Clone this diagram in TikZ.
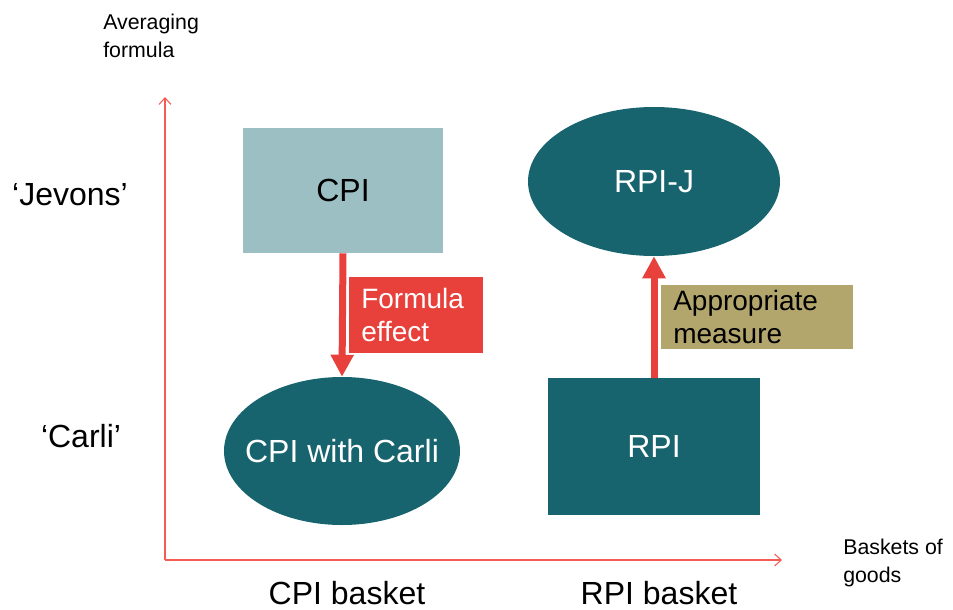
\documentclass[tikz,border=0pt]{standalone}
\usepackage{fontspec}
\setmainfont{Liberation Sans}
\usetikzlibrary{positioning,shapes.geometric,arrows.meta}
\definecolor{darkteal}{HTML}{17646E}
\definecolor{paleteal}{HTML}{9BBFC2}
\definecolor{effectred}{HTML}{E8403A}
\definecolor{measuretan}{HTML}{B3A66D}
\definecolor{axisred}{HTML}{F25C54}
\tikzset{
  index/.style={font=\fontsize{24}{28}\selectfont, inner sep=0pt},
  palebox/.style={index, rectangle, fill=paleteal, text=black},
  tealbox/.style={index, rectangle, fill=darkteal, text=white},
  tealoval/.style={index, ellipse, fill=darkteal,
    label={[index, text=white]center:#1}},
  note/.style={font=\fontsize{21}{25}\selectfont, rectangle, align=left,
    inner xsep=9pt, inner ysep=0pt, anchor=north west},
  axislabel/.style={font=\fontsize{16}{21}\selectfont, align=left,
    inner sep=0pt, anchor=north west},
  rowlabel/.style={font=\fontsize{24}{28}\selectfont, inner sep=0pt, anchor=base},
  axis/.style={draw=axisred, line width=0.8pt, -{Straight Barb[length=5pt,width=9pt]}},
  movearrow/.style={draw=effectred, line width=5.25pt, -{Triangle[width=16.5pt,length=16.5pt]}}
}
\begin{document}
\begin{tikzpicture}[x=0.75pt,y=-0.75pt]
\useasboundingbox (0,0) rectangle (953,610);
\coordinate (origin) at (165,560);
\coordinate (ytip) at (165,97);
\coordinate (xtip) at (782,560);
\draw[axis] (origin) -- (ytip);
\draw[axis] (origin) -- (xtip);
\node[axislabel] (avg) at (103,14) {Averaging\\formula};
\node[axislabel] (goods) at (843,539) {Baskets of\\goods};
\node[rowlabel] (jevons) at (70,205) {‘Jevons’};
\node[rowlabel] (carlirow) at (81,447) {‘Carli’};
\node[rowlabel] (cpibasket) at (347,604) {CPI basket};
\node[rowlabel] (rpibasket) at (659,604) {RPI basket};
\node[palebox, minimum width=150pt, minimum height=93.75pt] (cpi) at (343,190.5) {CPI};
\node[tealoval=CPI with Carli, minimum width=177pt, minimum height=111pt] (carli) at (342,451) {};
\node[tealoval=RPI-J, minimum width=189pt, minimum height=111.75pt] (rpij) at (654,181.5) {};
\node[tealbox, minimum width=159pt, minimum height=102.75pt] (rpi) at (654,446.5) {RPI};
\draw[movearrow] (cpi.south) -- (carli.north);
\draw[movearrow] (rpi.north) -- (rpij.south);
\node[note, fill=effectred, text=white, text width=82.5pt, minimum height=57pt] (formula) at (349,277) {Formula\\effect};
\node[note, fill=measuretan, text=black, text width=126pt, minimum height=48pt] (measure) at (661,285) {Appropriate\\measure};
\end{tikzpicture}
\end{document}
